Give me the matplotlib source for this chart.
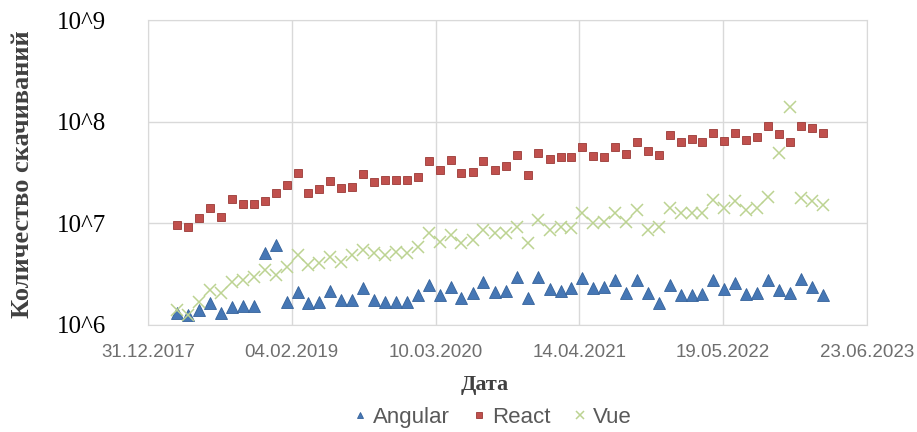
import numpy as np
import pandas as pd
import matplotlib
matplotlib.use("Agg")
import matplotlib.pyplot as plt
import matplotlib.dates as mdates
from matplotlib.ticker import FixedLocator, FixedFormatter

# monthly points, Mar 2018 .. Feb 2023
start = "2018-03-01"
n_months = 60
dates = pd.date_range(start, periods=n_months, freq="MS") + pd.Timedelta(days=20)

# downloads, millions
angular = [1.32, 1.26, 1.41, 1.65, 1.32, 1.51, 1.54, 1.54, 5.12, 6.14,
           1.69, 2.11, 1.65, 1.69, 2.16, 1.76, 1.76, 2.32, 1.76, 1.69,
           1.69, 1.69, 1.98, 2.48, 1.98, 2.37, 1.85, 2.07, 2.66, 2.11,
           2.16, 2.97, 1.85, 2.97, 2.25, 2.18, 2.30, 2.89, 2.30, 2.35,
           2.74, 2.05, 2.78, 2.05, 1.66, 2.48, 1.98, 1.98, 2.02, 2.74,
           2.25, 2.58, 2.02, 2.05, 2.74, 2.21, 2.05, 2.82, 2.35, 1.98]
react = [9.64, 9.29, 11.2, 14.1, 11.5, 17.3, 15.5, 15.5, 16.6, 20.0,
         23.9, 31.5, 20.0, 21.8, 26.1, 22.1, 22.6, 30.6, 25.7, 26.5,
         26.5, 26.5, 28.8, 41.4, 33.5, 42.0, 31.5, 32.3, 41.4, 33.5,
         37.0, 46.7, 29.9, 48.9, 42.7, 45.3, 45.3, 56.9, 46.3, 45.3,
         56.9, 48.1, 63.7, 51.9, 47.1, 74.0, 62.7, 67.1, 62.7, 78.0,
         65.0, 78.0, 66.1, 71.2, 90.8, 75.7, 63.7, 91.4, 86.1, 78.0]
vue = [1.41, 1.26, 1.70, 2.21, 2.05, 2.67, 2.78, 2.99, 3.48, 3.11,
       3.75, 4.89, 3.90, 4.05, 4.71, 4.21, 4.89, 5.47, 5.08, 4.89,
       5.27, 5.08, 5.91, 7.98, 6.61, 7.69, 6.37, 6.87, 8.61, 7.98,
       7.98, 9.29, 6.37, 10.8, 8.61, 9.29, 8.95, 12.6, 10.0, 10.4,
       12.6, 10.4, 13.6, 8.61, 9.29, 14.1, 12.6, 12.6, 12.6, 17.0,
       14.1, 16.4, 13.6, 14.1, 18.3, 48.9, 140.7, 17.7, 16.4, 15.2]

x_ticks = pd.date_range("2017-12-31", periods=6, freq="400D")
y_ticks = [1e6, 1e7, 1e8, 1e9]
y_labels = ["10^6", "10^7", "10^8", "10^9"]

fig = plt.figure(figsize=(9.17, 4.32), dpi=100)
ax = fig.add_axes([0.1614, 0.2477, 0.7841, 0.706])

ax.plot(dates, np.array(angular) * 1e6, ls="none", marker="^", ms=8,
        color="#4677b5", mec="#35629a", mew=0.6, label="Angular")
ax.plot(dates, np.array(react) * 1e6, ls="none", marker="s", ms=6.2,
        color="#C0504D", mec="#9a3a37", mew=0.6, label="React")
ax.plot(dates, np.array(vue) * 1e6, ls="none", marker="x", ms=8.5,
        color="#bcd392", mew=1.1, label="Vue")

ax.set_yscale("log")
ax.set_ylim(1e6, 1e9)
ax.yaxis.set_major_locator(FixedLocator(y_ticks))
ax.yaxis.set_major_formatter(FixedFormatter(y_labels))
ax.yaxis.set_minor_locator(FixedLocator([]))

ax.set_xlim(x_ticks[0], x_ticks[-1])
ax.set_xticks(x_ticks)
ax.xaxis.set_major_formatter(mdates.DateFormatter("%d.%m.%Y"))

ax.grid(True, color="#d9d9d9", lw=1)
ax.set_axisbelow(True)
for s in ax.spines.values():
    s.set_color("#d9d9d9")

ax.tick_params(axis="both", length=0)
ax.tick_params(axis="y", pad=30, labelsize=18)
ax.tick_params(axis="x", pad=14, labelsize=13.5, labelcolor="#6e6e6e")
for t in ax.get_yticklabels():
    t.set_fontfamily("Liberation Serif")
for t in ax.get_xticklabels():
    t.set_fontfamily("Liberation Sans")

fig.text(0.024, 0.597, "Количество скачиваний", rotation=90, ha="center",
         va="center", fontsize=19, fontweight="bold", family="Liberation Serif",
         color="#404040")
fig.text(0.529, 0.108, "Дата", ha="center", va="center", fontsize=16,
         fontweight="bold", family="Liberation Serif", color="#404040")

leg = fig.legend(loc="center", bbox_to_anchor=(0.536, 0.033), ncol=3,
                 frameon=False, handletextpad=0.2, columnspacing=0.9,
                 markerscale=0.6, handlelength=0.8,
                 prop={"family": "Liberation Sans", "size": 16})
for t in leg.get_texts():
    t.set_color("#595959")

fig.savefig("out.png", dpi=100)
